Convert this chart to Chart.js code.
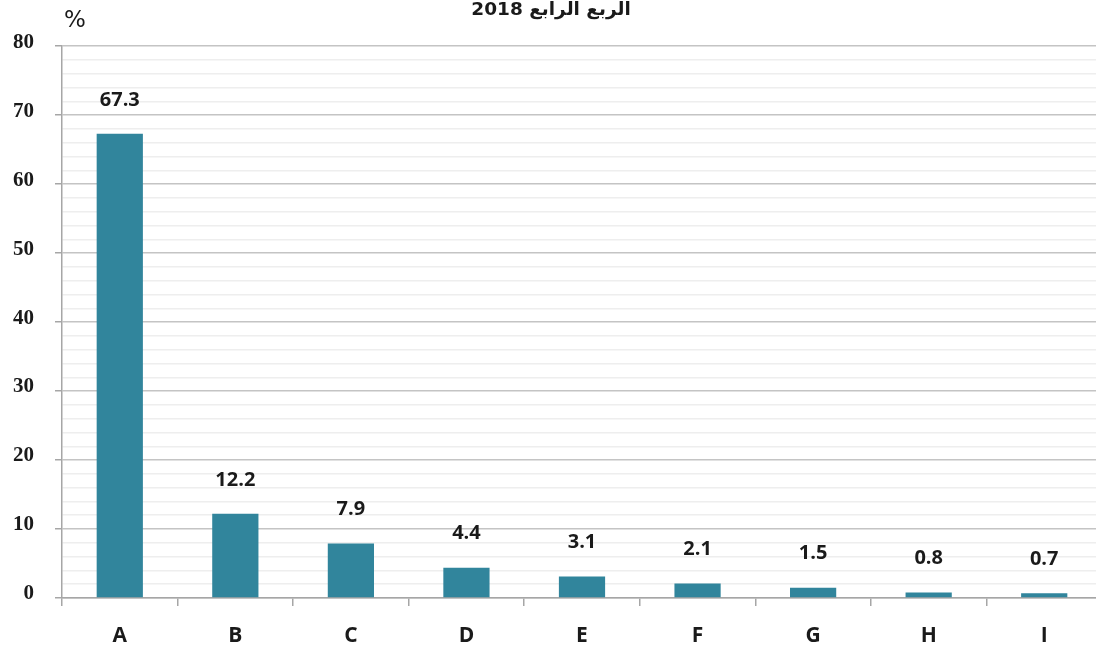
<!DOCTYPE html>
<html>
<head>
<meta charset="utf-8">
<script src="https://cdn.jsdelivr.net/npm/chart.js@4"></script>
<style>
  html, body { margin: 0; padding: 0; background: #fff; overflow: hidden; }
  #wrap { width: 1096px; height: 654px; overflow: hidden; position: relative; }
  #box { position: absolute; left: 0; top: -2px; width: 1102px; height: 656px; }
</style>
</head>
<body>
<div id="wrap"><div id="box"><canvas id="myChart"></canvas></div></div>
<script>
const categories = ["A", "B", "C", "D", "E", "F", "G", "H", "I"];
const values = [67.3, 12.2, 7.9, 4.4, 3.1, 2.1, 1.5, 0.8, 0.7];
const titleText = "الربع الرابع 2018";
const unitLabel = "%";
const barColor = "#31859c";

// value labels above each bar
const valueLabels = {
  id: 'valueLabels',
  afterDatasetsDraw(chart) {
    const ctx = chart.ctx;
    const meta = chart.getDatasetMeta(0);
    ctx.save();
    ctx.font = 'bold 20px "Open Sans", "Noto Sans", sans-serif';
    ctx.fillStyle = '#1a1a1a';
    ctx.textAlign = 'center';
    ctx.textBaseline = 'middle';
    meta.data.forEach((bar, i) => {
      ctx.fillText(values[i].toFixed(1), bar.x, bar.y - 34);
    });
    ctx.restore();
  }
};

// "%" unit above the y axis
const unitMark = {
  id: 'unitMark',
  afterDraw(chart) {
    const ctx = chart.ctx;
    const area = chart.chartArea;
    ctx.save();
    ctx.font = '23px "DejaVu Sans", sans-serif';
    ctx.fillStyle = '#1a1a1a';
    ctx.textAlign = 'center';
    ctx.textBaseline = 'middle';
    ctx.fillText(unitLabel, area.left + 13, area.top - 25);
    ctx.restore();
  }
};

new Chart("myChart", {
  type: "bar",
  data: {
    labels: categories,
    datasets: [{
      data: values,
      backgroundColor: barColor,
      barPercentage: 0.4,
      categoryPercentage: 1.0
    }]
  },
  options: {
    responsive: true,
    maintainAspectRatio: false,
    animation: false,
    layout: { padding: 0 },
    plugins: {
      legend: { display: false },
      tooltip: { enabled: false },
      title: {
        display: true,
        text: titleText,
        color: '#1a1a1a',
        font: { family: '"DejaVu Sans", sans-serif', size: 18.5, weight: 'bold' },
        padding: { top: 1, bottom: 25 }
      }
    },
    scales: {
      x: {
        afterFit(scale) { scale.height = 56; },
        grid: {
          offset: true,
          drawOnChartArea: false,
          tickLength: 8,
          tickColor: '#a6a6a6',
          lineWidth: 1.5
        },
        border: { color: '#a6a6a6', width: 1.5 },
        ticks: {
          padding: 17,
          color: '#1a1a1a',
          font: { family: '"Open Sans", "Noto Sans", sans-serif', size: 21, weight: 'bold' }
        }
      },
      y: {
        min: 0,
        max: 80,
        afterFit(scale) { scale.width = 62; },
        grid: {
          color: c => (c.tick && c.tick.value % 10 === 0) ? '#c4c4c4' : '#eeeeee',
          lineWidth: 1.5,
          tickColor: c => (c.tick && c.tick.value % 10 === 0) ? '#a6a6a6' : 'rgba(0,0,0,0)',
          tickLength: 7
        },
        border: { color: '#a6a6a6', width: 1.5 },
        ticks: {
          stepSize: 2,
          autoSkip: false,
          padding: 21,
          labelOffset: -4,
          color: '#1a1a1a',
          font: { family: '"Liberation Serif", "DejaVu Serif", serif', size: 21, weight: 'bold' },
          callback: v => (v % 10 === 0) ? v : ''
        }
      }
    }
  },
  plugins: [valueLabels, unitMark]
});
</script>
</body>
</html>
